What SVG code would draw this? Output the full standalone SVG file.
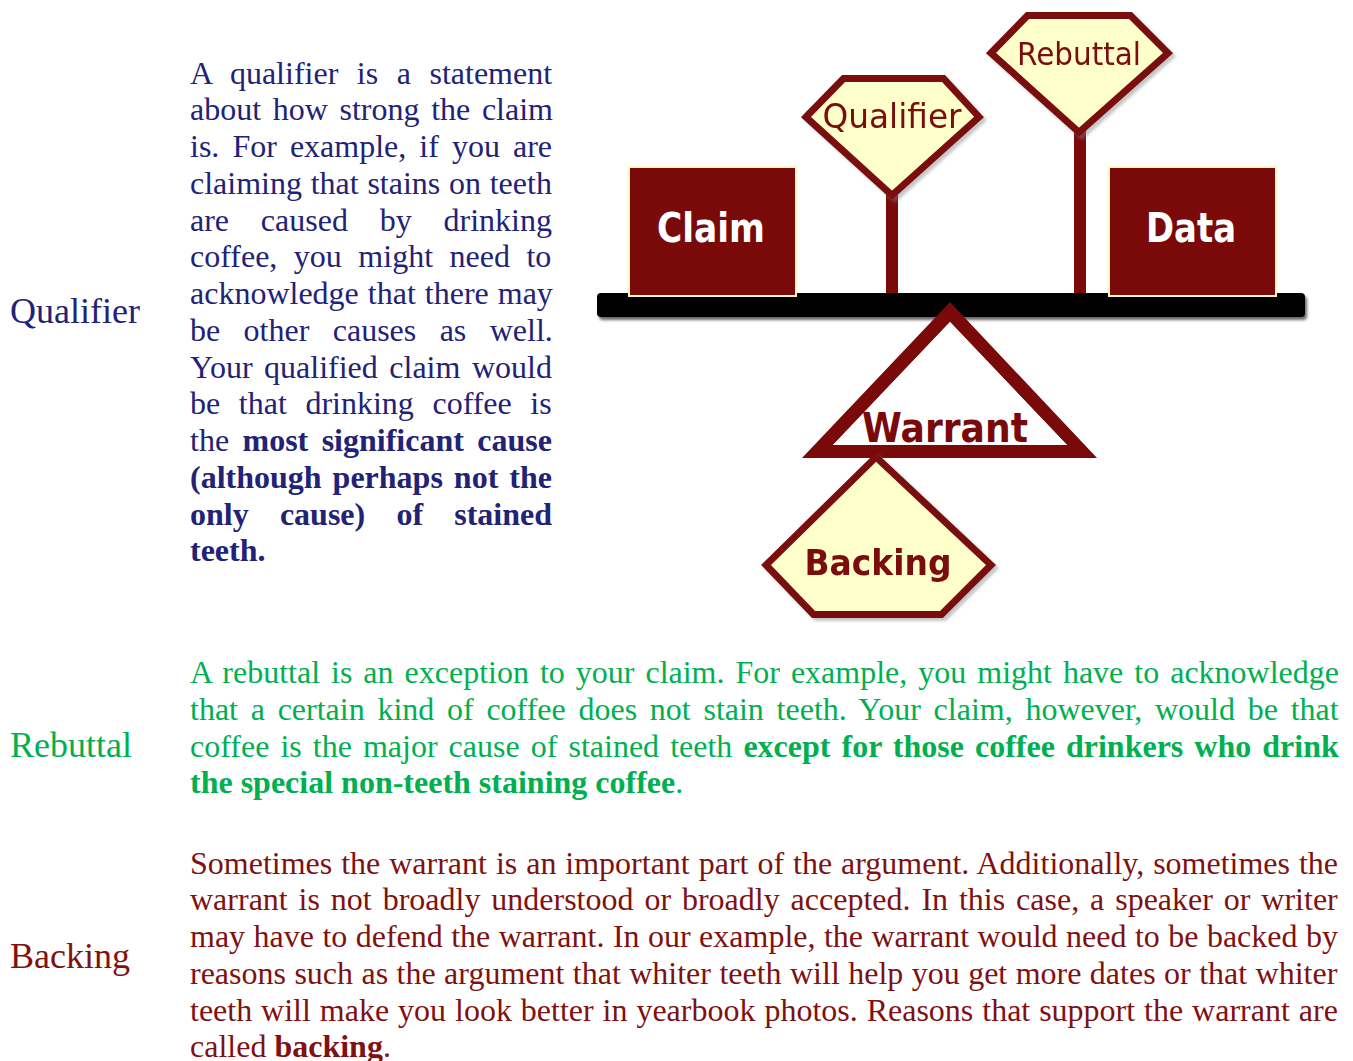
<svg xmlns="http://www.w3.org/2000/svg" width="1353" height="1061" viewBox="0 0 1353 1061">
<defs>
<filter id="sh" x="-10%" y="-10%" width="130%" height="130%">
<feDropShadow dx="3" dy="3" stdDeviation="1.5" flood-color="#808080" flood-opacity="0.45"/>
</filter>
<filter id="bl" x="-5%" y="-50%" width="110%" height="200%">
<feGaussianBlur stdDeviation="1.5"/>
</filter>
</defs>
<style>
.body{font-family:"Liberation Serif","Times New Roman",serif;font-size:32px}
.lab{font-family:"Liberation Serif","Times New Roman",serif;font-size:36px}
.q{fill:#222277}
.r{fill:#00b050}
.k{fill:#7f1111}
.b{font-weight:bold}
.sign{fill:#ffffcc;stroke:#7a0a0a;stroke-width:7;stroke-linejoin:miter}
.box{fill:#7a0a0a;stroke:#fff6c0;stroke-width:2}
.pole{fill:#7a0a0a}
.signtxt{font-family:"DejaVu Sans",Verdana,sans-serif;fill:#7a0a0a}
.boxtxt{font-family:"DejaVu Sans",Verdana,sans-serif;font-weight:bold;fill:#ffffff}
</style>
<rect width="1353" height="1061" fill="#ffffff"/>

<g id="connectors">
<rect class="pole" x="886" y="190" width="12" height="104"/>
<rect class="pole" x="1074" y="128" width="12" height="166"/>
</g>

<g id="qualifier-sign" filter="url(#sh)">
<polygon class="sign" points="806,117 843.5,78.5 943.5,78.5 979,117 892,195.3"/>
<text class="signtxt" x="892" y="128" font-size="33" text-anchor="middle" textLength="139" lengthAdjust="spacingAndGlyphs">Qualifier</text>
</g>

<g id="rebuttal-sign" filter="url(#sh)">
<polygon class="sign" points="991,53 1027.5,15.5 1130.5,15.5 1168,53 1079,132.3"/>
<text class="signtxt" x="1079" y="65" font-size="32" text-anchor="middle" textLength="124" lengthAdjust="spacingAndGlyphs">Rebuttal</text>
</g>

<g id="beam">
<rect x="599" y="296" width="708" height="24" rx="4" fill="#666666" filter="url(#bl)"/>
<rect x="597" y="293" width="708" height="24" rx="4" fill="#000000"/>
</g>

<g id="claim">
<rect class="box" x="629" y="167" width="167" height="129"/>
<text class="boxtxt" x="711" y="242" font-size="40" text-anchor="middle" textLength="108" lengthAdjust="spacingAndGlyphs">Claim</text>
</g>

<g id="data">
<rect class="box" x="1109" y="167" width="167" height="129"/>
<text class="boxtxt" x="1191" y="242" font-size="40" text-anchor="middle" textLength="90" lengthAdjust="spacingAndGlyphs">Data</text>
</g>

<g id="warrant">
<path d="M950,302 L1097,458 L802,458 Z M950,322 L833,445 L1067,445 Z" fill="#7a0a0a" fill-rule="evenodd"/>
<polygon points="950,322 1067,445 833,445" fill="#ffffff"/>
<text class="signtxt" x="945" y="442" font-size="40" font-weight="bold" text-anchor="middle" textLength="166" lengthAdjust="spacingAndGlyphs">Warrant</text>
</g>

<g id="backing-sign" filter="url(#sh)">
<polygon class="sign" points="876,457 991,565 941.5,614.5 813.5,614.5 766,565"/>
<text class="signtxt" x="878" y="575" font-size="36" font-weight="bold" text-anchor="middle" textLength="147" lengthAdjust="spacingAndGlyphs">Backing</text>
</g>

<g id="qualifier-text" class="body q">
<text class="lab" x="10" y="323">Qualifier</text>
<text x="190" y="83.5" word-spacing="10.55">A qualifier is a statement</text>
<text x="190" y="120.25" word-spacing="3.65">about how strong the claim</text>
<text x="190" y="157" word-spacing="5.04">is. For example, if you are</text>
<text x="190" y="193.75" word-spacing="0.72">claiming that stains on teeth</text>
<text x="190" y="230.5" word-spacing="23.8">are caused by drinking</text>
<text x="190" y="267.25" word-spacing="8.5">coffee, you might need to</text>
<text x="190" y="304" word-spacing="1.0">acknowledge that there may</text>
<text x="190" y="340.75" word-spacing="15.4">be other causes as well.</text>
<text x="190" y="377.5" word-spacing="3.5">Your qualified claim would</text>
<text x="190" y="414.25" word-spacing="10.6">be that drinking coffee is</text>
<text x="190" y="451" word-spacing="5.4">the <tspan class="b">most significant cause</tspan></text>
<text x="190" y="487.75" word-spacing="3.0" class="b">(although perhaps not the</text>
<text x="190" y="524.5" word-spacing="23.2" class="b">only cause) of stained</text>
<text x="190" y="561.25" class="b">teeth.</text>
</g>

<g id="rebuttal-text" class="body r">
<text class="lab" x="10" y="757">Rebuttal</text>
<text x="190" y="683" word-spacing="2.98">A rebuttal is an exception to your claim. For example, you might have to acknowledge</text>
<text x="190" y="719.8" word-spacing="4.72">that a certain kind of coffee does not stain teeth. Your claim, however, would be that</text>
<text x="190" y="756.6" word-spacing="3.05">coffee is the major cause of stained teeth <tspan class="b">except for those coffee drinkers who drink</tspan></text>
<text x="190" y="793.4"><tspan class="b">the special non-teeth staining coffee</tspan>.</text>
</g>

<g id="backing-text" class="body k">
<text class="lab" x="10" y="968">Backing</text>
<text x="190" y="873.5" word-spacing="0.95">Sometimes the warrant is an important part of the argument. Additionally, sometimes the</text>
<text x="190" y="910.4" word-spacing="2.9">warrant is not broadly understood or broadly accepted. In this case, a speaker or writer</text>
<text x="190" y="947.3" word-spacing="0.44">may have to defend the warrant. In our example, the warrant would need to be backed by</text>
<text x="190" y="984.2" word-spacing="0.43">reasons such as the argument that whiter teeth will help you get more dates or that whiter</text>
<text x="190" y="1021.1" word-spacing="0.93">teeth will make you look better in yearbook photos. Reasons that support the warrant are</text>
<text x="190" y="1057">called <tspan class="b">backing</tspan>.</text>
</g>
</svg>
